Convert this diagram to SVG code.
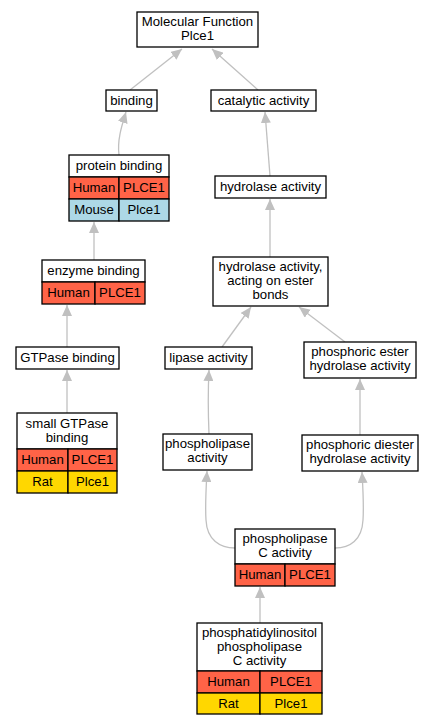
<svg xmlns="http://www.w3.org/2000/svg" width="433" height="725" viewBox="0 0 433 725">
<defs>
<style>
.n{fill:#fff;stroke:#000;stroke-width:1.3}
.h{fill:#ff6347;stroke:#000;stroke-width:1.3}
.m{fill:#add8e6;stroke:#000;stroke-width:1.3}
.r{fill:#ffd700;stroke:#000;stroke-width:1.3}
text{font-family:"Liberation Sans",Arial,sans-serif;font-size:13.2px;text-anchor:middle;fill:#000}
.e{fill:none;stroke:#c0c0c0;stroke-width:1.3;marker-end:url(#a)}
</style>
<marker id="a" viewBox="0 0 11 10" refX="11" refY="5" markerWidth="11" markerHeight="10" markerUnits="userSpaceOnUse" orient="auto">
<path d="M0,0L11,5L0,10z" fill="#c0c0c0"/>
</marker>
</defs>
<rect width="433" height="725" fill="#fff"/>
<g id="edges">
<path class="e" d="M130,90L182,49"/>
<path class="e" d="M258,90L212,49"/>
<path class="e" d="M119,155C117,140 122,125 126,112"/>
<path class="e" d="M94,260L94,222"/>
<path class="e" d="M67,347L67,305"/>
<path class="e" d="M67,413L67,370"/>
<path class="e" d="M270,176L265,112"/>
<path class="e" d="M270,257L270,199"/>
<path class="e" d="M222,347L251,307"/>
<path class="e" d="M345,342L299,307"/>
<path class="e" d="M209,434C208,410 208,390 209,370"/>
<path class="e" d="M360,435C360,415 360,395 360,379"/>
<path class="e" d="M235,548C220,548 207,540 206,520C205,505 206,490 207,471"/>
<path class="e" d="M335,548C350,548 362,540 363,520C364,505 363,490 362,472"/>
<path class="e" d="M260,623L260,587"/>
</g>
<g id="mf"><rect class="n" x="137" y="12" width="121" height="35"/><text x="197.5" y="26">Molecular Function</text><text x="197.5" y="40">Plce1</text></g>
<g id="binding"><rect class="n" x="106" y="90" width="51" height="21"/><text x="131.5" y="105">binding</text></g>
<g id="catalytic"><rect class="n" x="211" y="90" width="105" height="21"/><text x="263.5" y="105">catalytic activity</text></g>
<g id="protein_binding"><rect class="n" x="69" y="155" width="100" height="22"/><text x="119" y="170">protein binding</text>
<rect class="h" x="69" y="177" width="50" height="22"/><rect class="h" x="119" y="177" width="50" height="22"/><text x="94" y="192">Human</text><text x="144" y="192">PLCE1</text>
<rect class="m" x="69" y="199" width="50" height="22"/><rect class="m" x="119" y="199" width="50" height="22"/><text x="94" y="214">Mouse</text><text x="144" y="214">Plce1</text></g>
<g id="enzyme_binding"><rect class="n" x="42" y="260" width="103" height="22"/><text x="93.5" y="275">enzyme binding</text>
<rect class="h" x="42" y="282" width="53" height="22"/><rect class="h" x="95" y="282" width="50" height="22"/><text x="68.5" y="297">Human</text><text x="120" y="297">PLCE1</text></g>
<g id="gtpase_binding"><rect class="n" x="16" y="347" width="103" height="22"/><text x="67.5" y="362">GTPase binding</text></g>
<g id="small_gtpase"><rect class="n" x="17" y="413" width="100" height="36"/><text x="67" y="428">small GTPase</text><text x="67" y="442">binding</text>
<rect class="h" x="17" y="449" width="51" height="22"/><rect class="h" x="68" y="449" width="49" height="22"/><text x="42.5" y="464">Human</text><text x="92.5" y="464">PLCE1</text>
<rect class="r" x="17" y="471" width="51" height="22"/><rect class="r" x="68" y="471" width="49" height="22"/><text x="42.5" y="486">Rat</text><text x="92.5" y="486">Plce1</text></g>
<g id="hydrolase"><rect class="n" x="215" y="176" width="111" height="22"/><text x="270.5" y="191">hydrolase activity</text></g>
<g id="hydrolase_ester"><rect class="n" x="213" y="257" width="115" height="49"/><text x="270.5" y="271">hydrolase activity,</text><text x="270.5" y="285">acting on ester</text><text x="270.5" y="299">bonds</text></g>
<g id="lipase"><rect class="n" x="165" y="347" width="87" height="22"/><text x="208.5" y="362">lipase activity</text></g>
<g id="phosphoric_ester"><rect class="n" x="304" y="342" width="112" height="36"/><text x="360" y="356">phosphoric ester</text><text x="360" y="370">hydrolase activity</text></g>
<g id="phospholipase"><rect class="n" x="163" y="434" width="89" height="36"/><text x="207.5" y="448">phospholipase</text><text x="207.5" y="462">activity</text></g>
<g id="phosphoric_diester"><rect class="n" x="302" y="435" width="116" height="36"/><text x="360" y="449">phosphoric diester</text><text x="360" y="463">hydrolase activity</text></g>
<g id="plc"><rect class="n" x="235" y="529" width="100" height="35"/><text x="285" y="543">phospholipase</text><text x="285" y="557">C activity</text>
<rect class="h" x="235" y="564" width="50" height="22"/><rect class="h" x="285" y="564" width="50" height="22"/><text x="260" y="579">Human</text><text x="310" y="579">PLCE1</text></g>
<g id="pi_plc"><rect class="n" x="197" y="623" width="125" height="48"/><text x="259.5" y="637">phosphatidylinositol</text><text x="259.5" y="651">phospholipase</text><text x="259.5" y="665">C activity</text>
<rect class="h" x="197" y="671" width="63" height="22"/><rect class="h" x="260" y="671" width="62" height="22"/><text x="228.5" y="686">Human</text><text x="291" y="686">PLCE1</text>
<rect class="r" x="197" y="693" width="63" height="21"/><rect class="r" x="260" y="693" width="62" height="21"/><text x="228.5" y="708">Rat</text><text x="291" y="708">Plce1</text></g>
</svg>
